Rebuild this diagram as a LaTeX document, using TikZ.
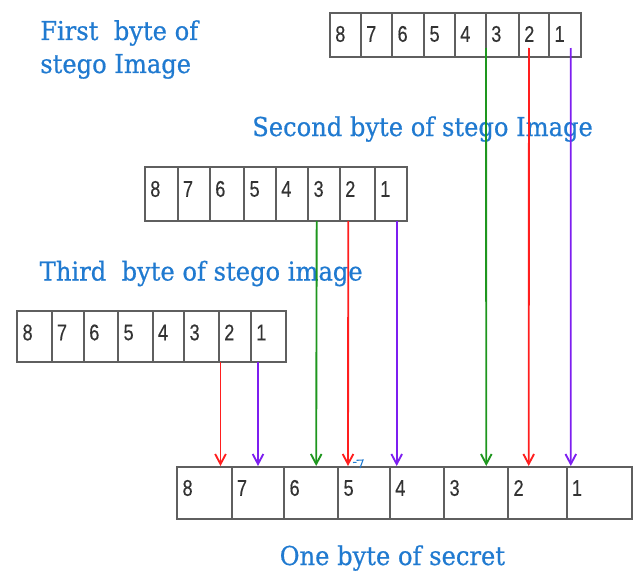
\documentclass[tikz,border=0pt]{standalone}
\usepackage{fontspec}
\newfontfamily\labelfont[FakeBold=0.7]{DejaVu Serif}
\newfontfamily\digitfont[FakeBold=0.4]{Liberation Sans}
\usetikzlibrary{arrows.meta}
\definecolor{captionblue}{RGB}{32,122,208}
\definecolor{bitgreen}{RGB}{30,150,30}
\definecolor{bitred}{RGB}{255,30,30}
\definecolor{bitpurple}{RGB}{125,30,240}
\definecolor{cellgray}{RGB}{95,95,95}

\tikzset{
  cell/.style={draw=cellgray, line width=1.3pt, inner sep=0pt, outer sep=0pt, anchor=north west},
  digit/.style={font=\digitfont\fontsize{17}{17}\selectfont, text=black!80, inner sep=0pt, anchor=west},
  caption/.style={font=\labelfont\fontsize{19.5}{22}\selectfont, text=captionblue, inner sep=0pt, anchor=base west},
  bitline/.style={line width=1.4pt, -{Straight Barb[length=7.5pt,width=8pt,line width=1.4pt]}},
}

\begin{document}
\begin{tikzpicture}[x=0.75pt,y=-0.75pt]
\useasboundingbox (0,0) rectangle (637,571);

% captions
\node[caption] (cap1a) at (40,40) {\scalebox{0.93}[1]{First\ \ byte of}};
\node[caption] (cap1b) at (40,73) {\scalebox{0.93}[1]{stego Image}};
\node[caption] (cap2) at (252,136) {\scalebox{0.93}[1]{Second byte of stego Image}};
\node[caption] (cap3) at (39.5,280.5) {\scalebox{0.93}[1]{Third\ \ byte of stego image}};
\node[caption] (cap4) at (279.5,565) {\scalebox{0.93}[1]{One byte of secret}};

% first byte of the stego image
\foreach \d/\l/\r in {8/330/361, 7/361/392.3, 6/392.3/424.3, 5/424.3/455, 4/455/486, 3/486/519, 2/519/549.3, 1/549.3/581} {
  \node[cell, minimum width={(\r-\l)*0.75pt}, minimum height={44*0.75pt}] (a\d) at (\l,12.7) {};
  \node[digit] (ad\d) at (\l+5,34) {\scalebox{0.8}[1]{\d}};
}
% second byte of the stego image
\foreach \d/\l/\r in {8/145/177.7, 7/177.7/210, 6/210/244.3, 5/244.3/276, 4/276/308.3, 3/308.3/340, 2/340/375, 1/375/406.7} {
  \node[cell, minimum width={(\r-\l)*0.75pt}, minimum height={53.7*0.75pt}] (b\d) at (\l,167.3) {};
  \node[digit] (bd\d) at (\l+5,189) {\scalebox{0.8}[1]{\d}};
}
% third byte of the stego image
\foreach \d/\l/\r in {8/17.3/51.7, 7/51.7/84, 6/84/118.3, 5/118.3/152.7, 4/152.7/184.3, 3/184.3/219, 2/219/251, 1/251/286} {
  \node[cell, minimum width={(\r-\l)*0.75pt}, minimum height={51.6*0.75pt}] (c\d) at (\l,310.7) {};
  \node[digit] (cd\d) at (\l+5,332.5) {\scalebox{0.8}[1]{\d}};
}
% secret byte
\foreach \d/\l/\r in {8/177.3/231.7, 7/231.7/284.3, 6/284.3/338.3, 5/338.3/390, 4/390/444.3, 3/444.3/508.3, 2/508.3/566.7, 1/566.7/631.7} {
  \node[cell, minimum width={(\r-\l)*0.75pt}, minimum height={52*0.75pt}] (s\d) at (\l,467.3) {};
  \node[digit] (sd\d) at (\l+5,488) {\scalebox{0.8}[1]{\d}};
}

% line start points
\coordinate (a3o) at (486,48);
\coordinate (a2o) at (529,48);
\coordinate (a1o) at (570.7,48);
\coordinate (b3o) at (316.7,221);
\coordinate (b2o) at (348.3,221);
\coordinate (b1o) at (396.7,221);
\coordinate (c2o) at (220.5,362.3);
\coordinate (c1o) at (258,362.3);
% arrow ends above the secret byte
\coordinate (t8) at (220.5,466);
\coordinate (t7) at (258,466);
\coordinate (t6) at (316.2,466);
\coordinate (t5) at (348,466);
\coordinate (t4) at (396.7,466);
\coordinate (t3) at (486.3,466);
\coordinate (t2) at (528.7,466);
\coordinate (t1) at (570.8,466);

\draw[bitline, bitred]    (c2o) -- (t8);
\draw[bitline, bitpurple] (c1o) -- (t7);
\draw[bitline, bitgreen]  (b3o) -- (t6);
\draw[bitline, bitred]    (b2o) -- (t5);
\draw[bitline, bitpurple] (b1o) -- (t4);
\draw[bitline, bitgreen]  (a3o) -- (t3);
\draw[bitline, bitred]    (a2o) -- (t2);
\draw[bitline, bitpurple] (a1o) -- (t1);

% small blue stroke beside bit 5
\draw[captionblue, line width=0.8pt] (353,462.5) -- (356.5,462.3) (356.5,460.3) -- (363,460) -- (360,468);
\end{tikzpicture}
\end{document}
